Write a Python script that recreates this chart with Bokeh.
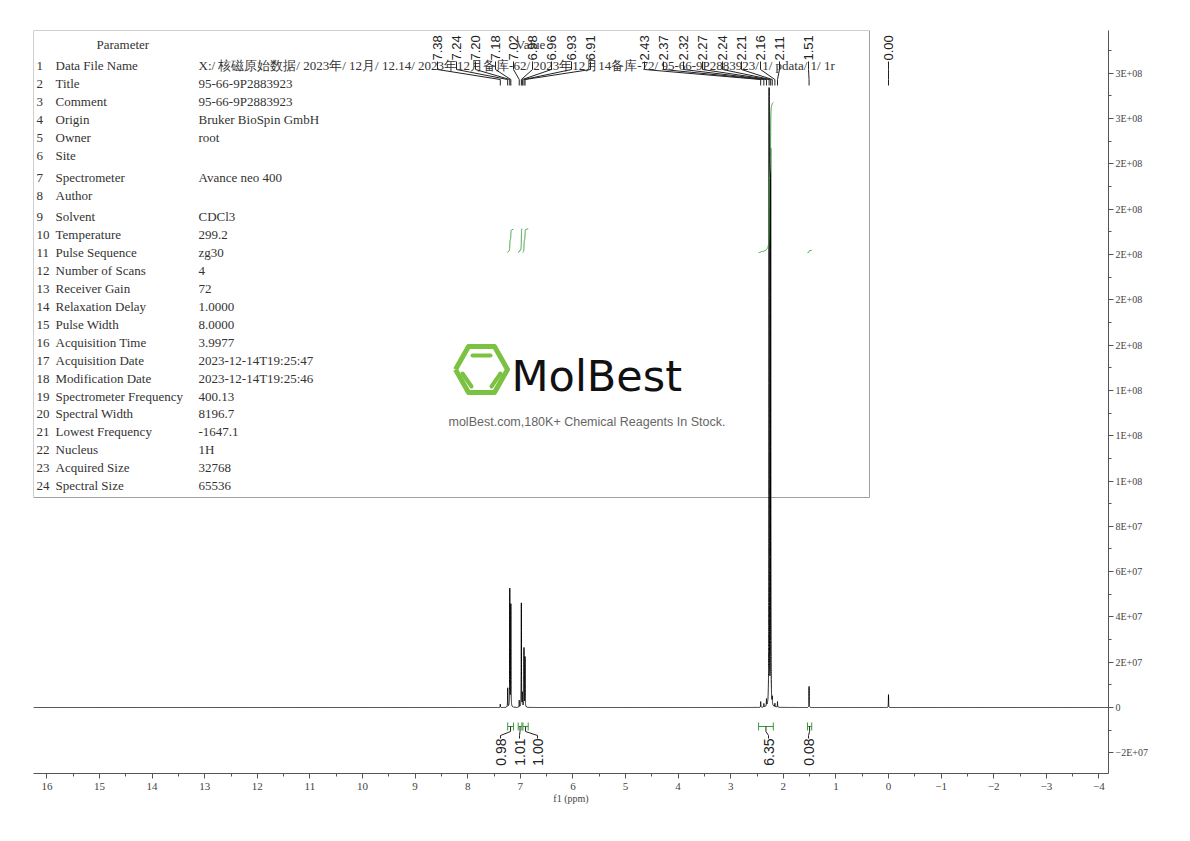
import numpy as np
from bokeh.plotting import figure
from bokeh.models import Range1d, FixedTicker, ColumnDataSource
from bokeh.core.properties import value
from bokeh.embed import file_html
from bokeh.resources import INLINE

# ---------------- data ----------------
peak_ppm = [7.38, 7.24, 7.20, 7.18, 7.02, 6.98, 6.96, 6.93, 6.91,
            2.43, 2.37, 2.32, 2.27, 2.24, 2.21, 2.16, 2.11, 1.51, 0.00]
peak_height = [0.15e7, 0.84e7, 5.2e7, 4.5e7, 0.3e7, 4.6e7, 0.6e7, 2.6e7, 2.2e7,
               0.25e7, 0.15e7, 0.3e7, 2.72e8, 2.45e8, 0.3e7, 0.15e7, 0.25e7, 0.93e7, 0.57e7]
peak_labels = ["7.38", "7.24", "7.20", "7.18", "7.02", "6.98", "6.96", "6.93", "6.91",
               "2.43", "2.37", "2.32", "2.27", "2.24", "2.21", "2.16", "2.11", "1.51", "0.00"]

int_from = [7.24, 7.04, 6.95, 2.47, 1.54]
int_to = [7.13, 6.97, 6.85, 2.19, 1.46]
int_values = [0.98, 1.01, 1.00, 6.35, 0.08]
int_labels = ["0.98", "1.01", "1.00", "6.35", "0.08"]

x_ticks = [16, 15, 14, 13, 12, 11, 10, 9, 8, 7, 6, 5, 4, 3, 2, 1, 0, -1, -2, -3, -4]
x_tick_labels = ["16", "15", "14", "13", "12", "11", "10", "9", "8", "7", "6", "5", "4",
                 "3", "2", "1", "0", "\u22121", "\u22122", "\u22123", "\u22124"]
y_ticks = [-2e7, 0.0, 2e7, 4e7, 6e7, 8e7, 1e8, 1.2e8, 1.4e8, 1.6e8, 1.8e8, 2e8, 2.2e8,
           2.4e8, 2.6e8, 2.8e8]
y_tick_labels = ["\u22122E+07", "0", "2E+07", "4E+07", "6E+07", "8E+07", "1E+08", "1E+08",
                 "1E+08", "2E+08", "2E+08", "2E+08", "2E+08", "2E+08", "3E+08", "3E+08"]

param_names = ["Data File Name", "Title", "Comment", "Origin", "Owner", "Site",
               "Spectrometer", "Author", "Solvent", "Temperature", "Pulse Sequence",
               "Number of Scans", "Receiver Gain", "Relaxation Delay", "Pulse Width",
               "Acquisition Time", "Acquisition Date", "Modification Date",
               "Spectrometer Frequency", "Spectral Width", "Lowest Frequency", "Nucleus",
               "Acquired Size", "Spectral Size"]
param_values = ["X:/ 核磁原始数据/ 2023年/ 12月/ 12.14/ 2023年12月备库-62/ 2023年12月14备库-72/ 95-66-9P2883923/ 1/ pdata/ 1/ 1r",
                "95-66-9P2883923", "95-66-9P2883923", "Bruker BioSpin GmbH", "root", "",
                "Avance neo 400", "", "CDCl3", "299.2", "zg30", "4", "72", "1.0000",
                "8.0000", "3.9977", "2023-12-14T19:25:47", "2023-12-14T19:25:46",
                "400.13", "8196.7", "-1647.1", "1H", "32768", "65536"]

# ---------------- layout helpers (page pixels -> data) ----------------
def X(px):
    return (888.0 - px) / 52.6


def Y(py):
    return (707.0 - py) * 2e7 / 45.3


p = figure(width=1178, height=820, output_backend="svg", toolbar_location=None,
           x_range=Range1d(X(33), X(1108)), y_range=Range1d(Y(773), Y(30)),
           y_axis_location="right", min_border_left=33, min_border_top=30,
           min_border_right=70, min_border_bottom=47)
p.grid.visible = False
p.outline_line_color = None
p.background_fill_color = "white"

# axes
axc = "#555555"
p.xaxis.ticker = FixedTicker(ticks=x_ticks, minor_ticks=list(np.arange(-4, 16.01, 0.5)))
p.xaxis.major_label_overrides = {t: l for t, l in zip(x_ticks, x_tick_labels)}
p.xaxis.axis_label = "f1 (ppm)"
p.yaxis.ticker = FixedTicker(ticks=y_ticks, minor_ticks=list(np.arange(-2e7, 2.95e8, 1e7)))
p.yaxis.major_label_overrides = {t: l for t, l in zip(y_ticks, y_tick_labels)}
for ax in (p.xaxis[0], p.yaxis[0]):
    ax.axis_line_color = axc
    ax.major_tick_line_color = axc
    ax.minor_tick_line_color = axc
    ax.major_tick_in = 0
    ax.major_tick_out = 5
    ax.minor_tick_in = 0
    ax.minor_tick_out = 3
    ax.major_label_text_font = "Liberation Serif"
    ax.major_label_text_color = "#444444"
    ax.major_label_text_font_size = "11px"
    ax.major_label_standoff = 4
p.yaxis.major_label_text_font_size = "10px"
p.yaxis.major_label_standoff = 2
p.xaxis.axis_label_text_font = "Liberation Serif"
p.xaxis.axis_label_text_font_style = "normal"
p.xaxis.axis_label_text_font_size = "10px"
p.xaxis.axis_label_text_color = "#444444"
p.xaxis.axis_label_standoff = 0

# ---------------- parameter table ----------------
p.quad(left=[X(33)], right=[X(869)], top=[Y(30)], bottom=[Y(497)],
       fill_color="white", line_color="#a0a0a0", line_width=1)
row_py = [65, 83, 101, 119, 137, 155, 177, 195, 216, 234, 252, 270, 288, 306, 324,
          342, 360, 378, 396, 413, 431, 449, 467, 485]
tfont = value("Liberation Serif")
tcol = "#333333"
tsize = "13px"
p.text(x=[X(96)], y=[Y(44)], text=["Parameter"], text_font=tfont,
       text_font_size=tsize, text_color=tcol, text_baseline="middle")
p.text(x=[X(530)], y=[Y(44)], text=["Value"], text_font=tfont, text_align="center",
       text_font_size=tsize, text_color=tcol, text_baseline="middle")
src_t = ColumnDataSource(dict(
    xn=[X(36)] * len(param_names), xm=[X(55)] * len(param_names),
    xv=[X(198)] * len(param_names), y=[Y(v) for v in row_py],
    num=[str(i + 1) for i in range(len(param_names))],
    name=param_names, val=param_values))
for col, xcol in (("num", "xn"), ("name", "xm"), ("val", "xv")):
    p.text(x=xcol, y="y", text=col, source=src_t, text_font=tfont,
           text_font_size=tsize, text_color=tcol, text_baseline="middle")

# ---------------- watermark logo ----------------
green = "#7cc242"
cx, cy = 481, 369
hx = [cx - 26, cx - 13, cx + 13, cx + 26, cx + 13, cx - 13, cx - 26]
hy = [cy, cy - 23, cy - 23, cy, cy + 23, cy + 23, cy]
p.line([X(v) for v in hx], [Y(v) for v in hy], line_color=green, line_width=5,
       line_join="round")
p.multi_line(xs=[[X(472), X(490)], [X(462), X(471)], [X(500), X(491)]],
             ys=[[Y(355), Y(355)], [Y(373), Y(386)], [Y(373), Y(386)]],
             line_color=green, line_width=4, line_cap="round")
p.text(x=[X(511)], y=[Y(375)], text=["MolBest"],
       text_font=value("DejaVu Sans"), text_font_size="43px",
       text_color="#111111", text_baseline="middle")
p.text(x=[X(448)], y=[Y(421)], text=["molBest.com,180K+ Chemical Reagents In Stock."],
       text_font=value("Liberation Sans"), text_font_size="12.5px", text_color="#666666",
       text_baseline="middle")

# ---------------- spectrum ----------------
hw = 0.0025
grid = [np.arange(X(1108), X(33), 0.002)]
for c in peak_ppm:
    grid.append(np.arange(c - 0.06, c + 0.06, 0.0003))
xs = np.unique(np.concatenate(grid))
ys = np.zeros_like(xs)
for c, h in zip(peak_ppm, peak_height):
    ys += h * hw ** 2 / ((xs - c) ** 2 + hw ** 2)
p.line(xs, ys, line_color="black", line_width=1)

# ---------------- integrals ----------------
igreen = "#3a9a3a"
full_rise = Y(102) - Y(252)
for a, b, v in zip(int_from, int_to, int_values):
    ix = np.linspace(a, b, 300)
    iy = np.zeros_like(ix)
    for c, h in zip(peak_ppm, peak_height):
        iy += h * hw ** 2 / ((ix - c) ** 2 + hw ** 2)
    cum = np.cumsum(iy)
    cum = cum / cum[-1]
    p.line(ix, Y(252) + cum * full_rise * v / int_values[3], line_color=igreen, line_width=1)

# integral brackets and labels
int_label_px = [500, 519, 537, 768, 808]
bxs, bys = [], []
for a, b in zip(int_from, int_to):
    bxs += [[a, b], [a, a], [b, b]]
    bys += [[Y(726), Y(726)], [Y(722), Y(730)], [Y(722), Y(730)]]
p.multi_line(xs=bxs, ys=bys, line_color=igreen, line_width=1)
cxs, cys = [], []
for a, b, lp in zip(int_from, int_to, int_label_px):
    m = (a + b) / 2
    cxs.append([m, m, X(lp), X(lp)])
    cys.append([Y(726), Y(731), Y(735), Y(738)])
p.multi_line(xs=cxs, ys=cys, line_color="#222222", line_width=1)
p.text(x=[X(v) for v in int_label_px], y=[Y(738)] * len(int_labels), text=int_labels,
       angle=np.pi / 2, text_align="right", text_baseline="middle",
       text_font=value("Liberation Sans"), text_font_size="14px", text_color="#222222")

# ---------------- peak labels ----------------
label_px = [437, 456, 475, 495, 513, 532, 551, 571, 590,
            644, 663, 683, 702, 722, 741, 760, 779, 808, 888]
lxs, lys = [], []
for c, lp in zip(peak_ppm, label_px):
    lxs.append([X(lp), X(lp), c, c])
    lys.append([Y(61), Y(69), Y(79), Y(85)])
p.multi_line(xs=lxs, ys=lys, line_color="#222222", line_width=1)
p.text(x=[X(v) for v in label_px], y=[Y(60)] * len(peak_labels), text=peak_labels,
       angle=np.pi / 2, text_align="left", text_baseline="middle",
       text_font=value("Liberation Sans"), text_font_size="13px", text_color="#222222")

open("out.html", "w").write(file_html(p, INLINE))
